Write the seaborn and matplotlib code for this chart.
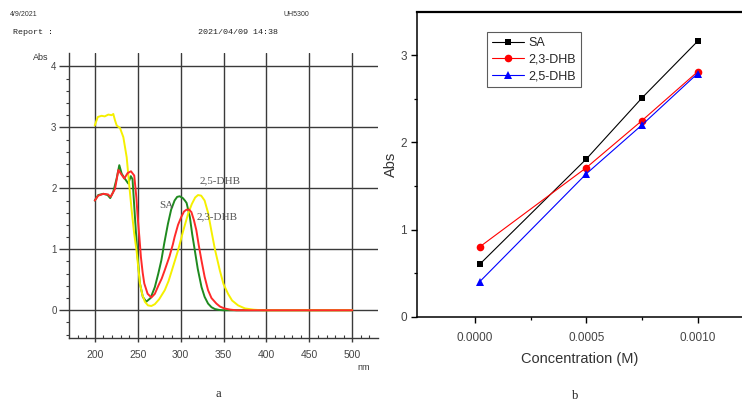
import numpy as np
import pandas as pd
import matplotlib
matplotlib.use('Agg')
import matplotlib.pyplot as plt
from matplotlib.ticker import MultipleLocator, FixedLocator, FormatStrFormatter
import seaborn as sns

# spectra (panel a)
sa_nm = [200, 204, 210, 215, 218, 221.5, 225.5, 228.6, 231.4, 235, 239, 242, 244, 246.5,
         249.5, 252.5, 256, 260, 265, 270, 274, 277.6, 281, 285.3, 289, 293, 296, 299,
         302.6, 305, 307, 310.8, 313.5, 316.6, 320, 324.4, 328, 332, 336, 340, 345, 350, 500]
sa_abs = [1.80, 1.89, 1.91, 1.89, 1.84, 1.94, 2.16, 2.38, 2.24, 2.16, 2.08, 2.20, 2.15, 1.60,
          0.95, 0.45, 0.22, 0.14, 0.20, 0.38, 0.60, 0.82, 1.10, 1.42, 1.65, 1.80, 1.86, 1.87,
          1.84, 1.80, 1.76, 1.53, 1.25, 0.98, 0.68, 0.38, 0.22, 0.11, 0.05, 0.02, 0.005, 0.0, 0.0]

d23_nm = [200, 204, 210, 215.5, 218.4, 223.6, 227.5, 230, 234.4, 238.3, 242.2, 246, 248.5,
          250, 252, 253.8, 255.8, 257.7, 261.6, 266, 270, 274, 278, 281.6, 287, 291, 293,
          297, 300.8, 304, 306.9, 310, 312.6, 315.5, 318.4, 321, 324.3, 328, 332, 336, 341.7,
          346, 351, 358, 365, 500]
d23_abs = [1.80, 1.88, 1.91, 1.90, 1.86, 1.99, 2.30, 2.25, 2.16, 2.25, 2.28, 2.21, 1.85,
           1.53, 1.20, 0.87, 0.62, 0.44, 0.27, 0.21, 0.27, 0.40, 0.52, 0.66, 0.88, 1.08, 1.20,
           1.40, 1.53, 1.62, 1.65, 1.65, 1.61, 1.48, 1.31, 1.08, 0.82, 0.55, 0.33, 0.20, 0.11,
           0.06, 0.03, 0.01, 0.0, 0.0]

d25_nm = [200, 203.5, 208, 211.6, 215.8, 219.7, 221.6, 223.5, 225.6, 229.4, 233.3, 237.2,
          240, 243, 246, 248.7, 250.7, 252.6, 255.5, 258.4, 262, 266, 270, 275, 281.6, 286,
          290, 297, 303, 308.7, 313, 317, 320.3, 324, 328, 332, 335.8, 340, 345.6, 350, 355.3,
          360, 367, 375, 385, 395, 500]
d25_abs = [3.03, 3.17, 3.19, 3.18, 3.21, 3.20, 3.22, 3.12, 3.03, 2.99, 2.84, 2.51,
           2.08, 1.64, 1.25, 0.98, 0.70, 0.44, 0.25, 0.14, 0.08, 0.07, 0.10, 0.18, 0.33, 0.48,
           0.66, 0.98, 1.30, 1.58, 1.74, 1.85, 1.89, 1.88, 1.80, 1.60, 1.31, 1.00, 0.66, 0.43,
           0.27, 0.16, 0.08, 0.03, 0.01, 0.0, 0.0]

# calibration (panel b)
conc = [0.00002, 0.0005, 0.00075, 0.001]
abs_sa = [0.60, 1.81, 2.51, 3.16]
abs_23 = [0.80, 1.71, 2.25, 2.81]
abs_25 = [0.40, 1.64, 2.20, 2.79]

sns.set_theme(style='white')
plt.rcParams['font.family'] = ['Liberation Sans', 'DejaVu Sans']

W, H = 742, 407
fig = plt.figure(figsize=(W / 100, H / 100), dpi=100)
fig.patch.set_facecolor('white')

def box(l, t, r, b):
    return [l / W, 1 - b / H, (r - l) / W, (b - t) / H]

# ---------------- panel a ----------------
ax1 = fig.add_axes(box(69, 53, 378, 337.7))
gc = '#3a3a3a'
sns.lineplot(x=sa_nm, y=sa_abs, ax=ax1, color='#1f8a1f', lw=1.4, sort=False)
sns.lineplot(x=d25_nm, y=d25_abs, ax=ax1, color='#f5f000', lw=1.4, sort=False)
sns.lineplot(x=d23_nm, y=d23_abs, ax=ax1, color='#ff2a2a', lw=1.4, sort=False)
ax1.set_xlim(170, 530)
ax1.set_ylim(-0.45, 4.22)
ax1.xaxis.set_major_locator(FixedLocator([200, 250, 300, 350, 400, 450, 500]))
ax1.xaxis.set_minor_locator(FixedLocator([v for v in range(180, 530, 10) if v % 50]))
ax1.yaxis.set_major_locator(FixedLocator([0, 1, 2, 3, 4]))
ax1.yaxis.set_minor_locator(FixedLocator([v / 10 for v in range(-4, 42, 2) if v % 10]))
ax1.grid(True, which='major', color=gc, lw=1.0)
ax1.set_axisbelow(True)
for s in ['top', 'right']:
    ax1.spines[s].set_visible(False)
for s in ['left', 'bottom']:
    ax1.spines[s].set_color(gc)
    ax1.spines[s].set_linewidth(1.0)
ax1.tick_params(axis='y', which='major', direction='out', length=7, width=1.0, color=gc,
                labelsize=7, labelcolor='#444444', pad=2, left=True)
ax1.tick_params(axis='y', which='minor', direction='out', length=2, width=0.8, color=gc, left=True)
ax1.tick_params(axis='x', which='major', direction='out', length=3, width=1.0, color=gc,
                labelsize=7.5, labelcolor='#444444', pad=6, bottom=True)
ax1.tick_params(axis='x', which='minor', direction='in', length=2.5, width=0.8, color=gc, bottom=True)
ax1.set_xlabel('')
ax1.set_ylabel('')

fig.text(41 / W, 1 - 57 / H, 'Abs', fontsize=6.5, color='#333333', ha='center', va='center')
fig.text(364 / W, 1 - 367 / H, 'nm', fontsize=6.5, color='#333333', ha='center', va='center')

serif = ['Liberation Serif', 'DejaVu Serif']
ax1.text(322, 2.12, '2,5-DHB', family=serif, fontsize=8, color='#555555', va='center')
ax1.text(275, 1.72, 'SA', family=serif, fontsize=8, color='#555555', va='center')
ax1.text(319, 1.53, '2,3-DHB', family=serif, fontsize=8, color='#555555', va='center')

mono = ['Liberation Mono', 'DejaVu Sans Mono']
fig.text(10 / W, 1 - 15 / H, '4/9/2021', fontsize=5, color='#333333', va='center')
fig.text(283 / W, 1 - 15 / H, 'UH5300', fontsize=5, color='#333333', va='center')
fig.text(13 / W, 1 - 33 / H, 'Report :', family=mono, fontsize=6, color='#222222', va='center')
fig.text(198 / W, 1 - 33 / H, '2021/04/09 14:38', family=mono, fontsize=6, color='#222222', va='center')

# ---------------- panel b ----------------
ax2 = fig.add_axes(box(417.3, 11.7, 742, 316.7))
sns.lineplot(x=conc, y=abs_sa, ax=ax2, color='black', lw=0.8, marker='s', markersize=5,
             markeredgewidth=0, label='SA')
sns.lineplot(x=conc, y=abs_23, ax=ax2, color='red', lw=0.8, marker='o', markersize=5.5,
             markeredgewidth=0, label='2,3-DHB')
sns.lineplot(x=conc, y=abs_25, ax=ax2, color='blue', lw=0.8, marker='^', markersize=6,
             markeredgewidth=0, label='2,5-DHB')
ax2.set_xlim(-0.00026, 0.0012)
ax2.set_ylim(0, 3.5)
ax2.xaxis.set_major_locator(FixedLocator([0, 0.0005, 0.001]))
ax2.xaxis.set_minor_locator(FixedLocator([0.00025, 0.00075]))
ax2.xaxis.set_major_formatter(FormatStrFormatter('%.4f'))
ax2.yaxis.set_major_locator(FixedLocator([0, 1, 2, 3]))
ax2.yaxis.set_minor_locator(FixedLocator([0.5, 1.5, 2.5]))
ax2.spines['right'].set_visible(False)
for s in ['left', 'bottom']:
    ax2.spines[s].set_color('black')
    ax2.spines[s].set_linewidth(1.1)
ax2.spines['top'].set_color('black')
ax2.spines['top'].set_linewidth(1.6)
ax2.tick_params(which='major', direction='out', length=4, width=1.0, color='black',
                labelsize=8.5, labelcolor='#444444', bottom=True, left=True)
ax2.tick_params(which='minor', direction='out', length=2.5, width=0.9, color='black',
                bottom=True, left=True)
ax2.tick_params(axis='x', pad=7)
ax2.set_xlabel('Concentration (M)', fontsize=10.5, color='#333333', labelpad=6)
ax2.set_ylabel('Abs', fontsize=10.5, color='#333333', labelpad=2)
leg = ax2.legend(loc='upper left', bbox_to_anchor=(0.214, 0.9325), borderaxespad=0,
                 fontsize=9, frameon=True, fancybox=False, handlelength=2.6,
                 labelspacing=0.35, borderpad=0.4, handletextpad=0.3)
leg.get_frame().set_edgecolor('#333333')
leg.get_frame().set_linewidth(0.8)

fig.text(218 / W, 1 - 394 / H, 'a', family=serif, fontsize=9, color='#222222', ha='center', va='center')
fig.text(575 / W, 1 - 396 / H, 'b', family=serif, fontsize=9, color='#222222', ha='center', va='center')

fig.savefig('out.png', dpi=100, facecolor='white')
